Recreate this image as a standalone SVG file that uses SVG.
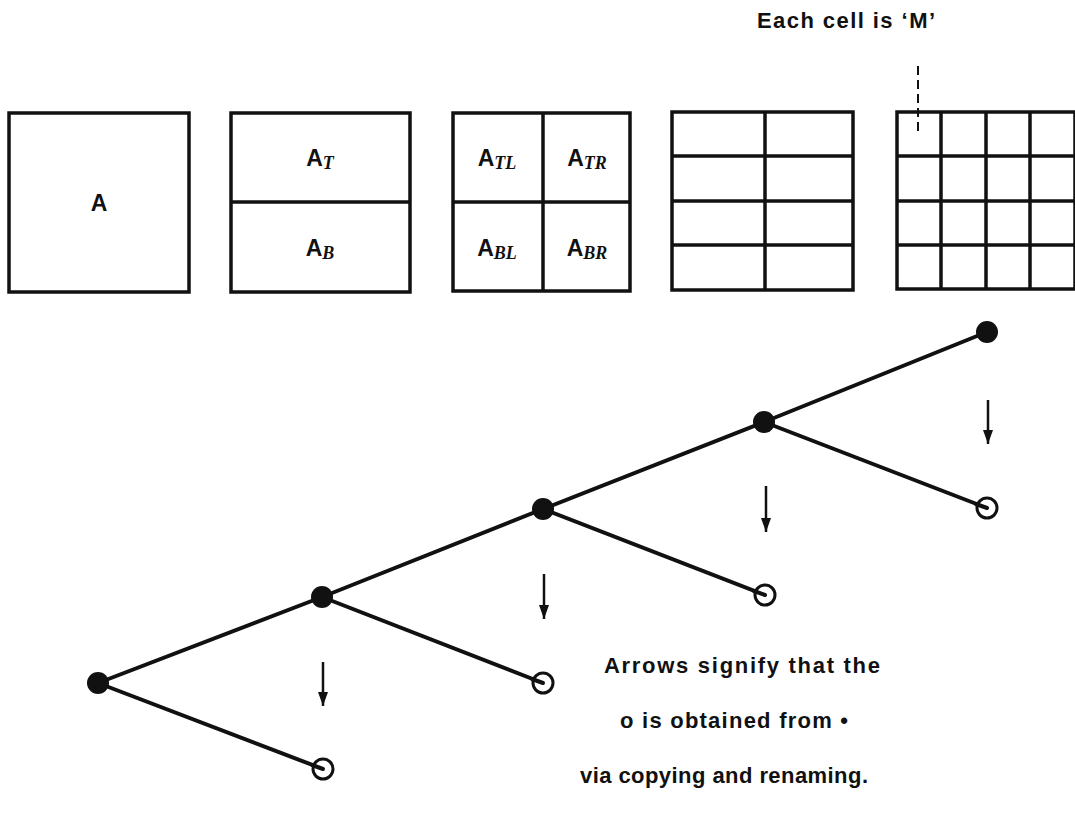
<svg xmlns="http://www.w3.org/2000/svg" width="1075" height="828" viewBox="0 0 1075 828">
  <style>
    .box { fill: none; stroke: #111; stroke-width: 3.5; }
    .grid { stroke: #111; stroke-width: 3.5; fill: none; }
    .lbl { font-family: "Liberation Sans", Arial, sans-serif; font-weight: bold; font-size: 23px; fill: #111; }
    .sub { font-family: "Liberation Serif", "Times New Roman", serif; font-style: italic; font-weight: bold; font-size: 18px; }
    .note { font-family: "Liberation Sans", Arial, sans-serif; font-weight: bold; font-size: 22px; fill: #111; }
    .edge { stroke: #111; stroke-width: 4; fill: none; stroke-linecap: round; }
    .copy { stroke: #111; stroke-width: 2.5; fill: none; }
    .full { fill: #111; }
    .hollow { fill: #fff; stroke: #111; stroke-width: 3; }
  </style>
  <defs>
    <marker id="down" markerUnits="userSpaceOnUse" markerWidth="10" markerHeight="14" refX="5" refY="14" orient="0" viewBox="0 0 10 14">
      <path d="M0,0 L10,0 L5,14 Z" fill="#111"/>
    </marker>
  </defs>
  <rect width="1075" height="828" fill="#fff"/>

  <!-- caption for the finest subdivision -->
  <g id="cell-note">
    <text class="note" x="846" y="28" text-anchor="middle" textLength="178">Each cell is ‘M’</text>
    <line x1="918" y1="66" x2="918" y2="136" stroke="#111" stroke-width="2" stroke-dasharray="9 5"/>
  </g>

  <!-- whole matrix -->
  <g id="matrix-A">
    <rect class="box" x="9" y="113" width="180" height="179"/>
    <text class="lbl" x="99" y="211" text-anchor="middle">A</text>
  </g>

  <!-- top/bottom halves -->
  <g id="matrix-halves">
    <rect class="box" x="231" y="113" width="179" height="179"/>
    <line class="grid" x1="231" y1="202" x2="410" y2="202"/>
    <text class="lbl" x="320" y="166" text-anchor="middle">A<tspan class="sub" dy="3">T</tspan></text>
    <text class="lbl" x="320" y="256" text-anchor="middle">A<tspan class="sub" dy="3">B</tspan></text>
  </g>

  <!-- quadrants -->
  <g id="matrix-quadrants">
    <rect class="box" x="453" y="113" width="177" height="178"/>
    <line class="grid" x1="543" y1="113" x2="543" y2="291"/>
    <line class="grid" x1="453" y1="202" x2="630" y2="202"/>
    <text class="lbl" x="497" y="166" text-anchor="middle">A<tspan class="sub" dy="3">TL</tspan></text>
    <text class="lbl" x="587" y="166" text-anchor="middle">A<tspan class="sub" dy="3">TR</tspan></text>
    <text class="lbl" x="497" y="256" text-anchor="middle">A<tspan class="sub" dy="3">BL</tspan></text>
    <text class="lbl" x="587" y="256" text-anchor="middle">A<tspan class="sub" dy="3">BR</tspan></text>
  </g>

  <!-- 4 x 2 subdivision -->
  <g id="matrix-4x2">
    <rect class="box" x="672" y="112" width="181" height="178"/>
    <line class="grid" x1="765" y1="112" x2="765" y2="290"/>
    <line class="grid" x1="672" y1="156" x2="853" y2="156"/>
    <line class="grid" x1="672" y1="201" x2="853" y2="201"/>
    <line class="grid" x1="672" y1="245" x2="853" y2="245"/>
  </g>

  <!-- 4 x 4 subdivision -->
  <g id="matrix-4x4">
    <rect class="box" x="897" y="112" width="178" height="177"/>
    <line class="grid" x1="941" y1="112" x2="941" y2="289"/>
    <line class="grid" x1="986" y1="112" x2="986" y2="289"/>
    <line class="grid" x1="1030" y1="112" x2="1030" y2="289"/>
    <line class="grid" x1="897" y1="156" x2="1075" y2="156"/>
    <line class="grid" x1="897" y1="201" x2="1075" y2="201"/>
    <line class="grid" x1="897" y1="245" x2="1075" y2="245"/>
  </g>

  <!-- tree edges and copy arrows -->
  <g id="connectors">
    <polyline class="edge" points="98,683 322,597 543,509 764,422 987,332"/>
    <line class="edge" x1="98" y1="683" x2="323" y2="769"/>
    <line class="edge" x1="322" y1="597" x2="543" y2="683"/>
    <line class="edge" x1="543" y1="509" x2="765" y2="595"/>
    <line class="edge" x1="764" y1="422" x2="987" y2="508"/>
    <line class="copy" x1="323" y1="662" x2="323" y2="706" marker-end="url(#down)"/>
    <line class="copy" x1="544" y1="574" x2="544" y2="619" marker-end="url(#down)"/>
    <line class="copy" x1="766" y1="486" x2="766" y2="532" marker-end="url(#down)"/>
    <line class="copy" x1="988" y1="400" x2="988" y2="444" marker-end="url(#down)"/>
  </g>

  <!-- filled nodes -->
  <g id="node-1"><circle class="full" cx="98" cy="683" r="11"/></g>
  <g id="node-2"><circle class="full" cx="322" cy="597" r="11"/></g>
  <g id="node-3"><circle class="full" cx="543" cy="509" r="11"/></g>
  <g id="node-4"><circle class="full" cx="764" cy="422" r="11"/></g>
  <g id="node-5"><circle class="full" cx="987" cy="332" r="11"/></g>

  <!-- copied (open) nodes -->
  <g id="copy-1"><circle class="hollow" cx="323" cy="769" r="10"/><line class="edge" x1="312" y1="765" x2="323" y2="769" stroke-width="3"/></g>
  <g id="copy-2"><circle class="hollow" cx="543" cy="683" r="10"/><line class="edge" x1="532" y1="679" x2="543" y2="683" stroke-width="3"/></g>
  <g id="copy-3"><circle class="hollow" cx="765" cy="595" r="10"/><line class="edge" x1="754" y1="591" x2="765" y2="595" stroke-width="3"/></g>
  <g id="copy-4"><circle class="hollow" cx="987" cy="508" r="10"/><line class="edge" x1="976" y1="504" x2="987" y2="508" stroke-width="3"/></g>

  <!-- legend -->
  <g id="legend">
    <text class="note" x="742" y="673" text-anchor="middle" textLength="276">Arrows signify that the</text>
    <text class="note" x="734" y="728" text-anchor="middle" textLength="228">o is obtained from •</text>
    <text class="note" x="724" y="783" text-anchor="middle" textLength="288">via copying and renaming.</text>
  </g>
</svg>
